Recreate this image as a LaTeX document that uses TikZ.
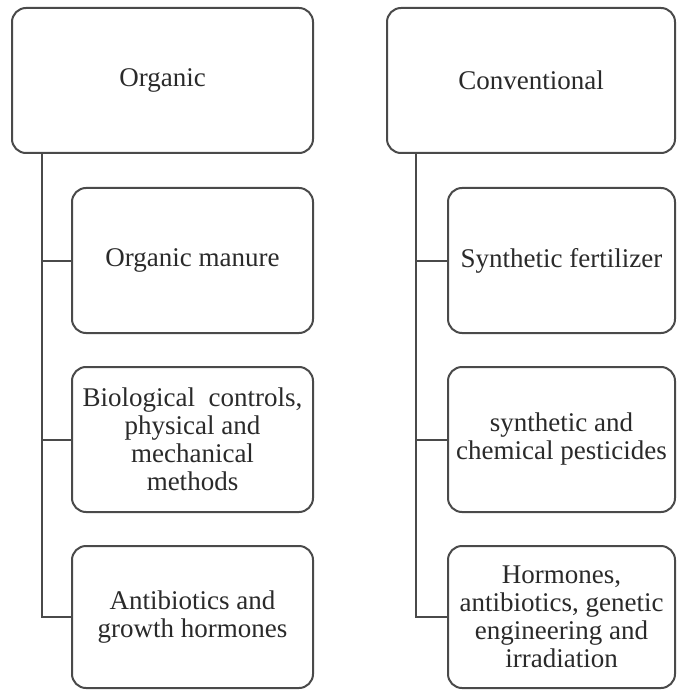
\documentclass[tikz,border=0pt]{standalone}
\usepackage{fontspec}
\setmainfont{Liberation Serif}
\usetikzlibrary{positioning,calc}
\definecolor{edge}{HTML}{4A4A4A}
\definecolor{txt}{HTML}{2A2A2A}

\begin{document}
\begin{tikzpicture}[
  x=1pt, y=-1pt,
  box/.style={draw=edge, line width=2pt, rounded corners=14pt, fill=white,
    align=center, text=txt, inner sep=0pt, font=\fontsize{27}{28}\selectfont},
  link/.style={draw=edge, line width=2pt},
]
\useasboundingbox (0,0) rectangle (676,692);

% organic column
\node[box, minimum width=301pt, minimum height=145pt] (org) at (162.5, 80.5) {Organic};
\node[box, minimum width=241pt, minimum height=145pt] (manure) at (192.5, 260.5) {Organic manure};
\node[box, minimum width=241pt, minimum height=145pt] (bio) at (192.5, 439.5) {Biological~~controls,\\physical and\\mechanical\\methods};
\node[box, minimum width=241pt, minimum height=142pt] (anti) at (192.5, 617) {Antibiotics and\\growth hormones};

% conventional column
\node[box, minimum width=288pt, minimum height=145pt] (conv) at (531, 80.5) {Conventional};
\node[box, minimum width=227pt, minimum height=145pt] (fert) at (561.5, 260.5) {Synthetic fertilizer};
\node[box, minimum width=227pt, minimum height=145pt] (pest) at (561.5, 439.5) {synthetic and\\chemical~pesticides};
\node[box, minimum width=227pt, minimum height=142pt] (horm) at (561.5, 617) {Hormones,\\antibiotics, genetic\\engineering and\\irradiation};

% connectors
\coordinate (orgroot) at ($(org.south west)+(31,0)$);
\coordinate (convroot) at ($(conv.south west)+(30,0)$);
\draw[link] (orgroot) |- (manure.west);
\draw[link] (orgroot) |- (bio.west);
\draw[link] (orgroot) |- (anti.west);
\draw[link] (convroot) |- (fert.west);
\draw[link] (convroot) |- (pest.west);
\draw[link] (convroot) |- (horm.west);

\end{tikzpicture}
\end{document}
